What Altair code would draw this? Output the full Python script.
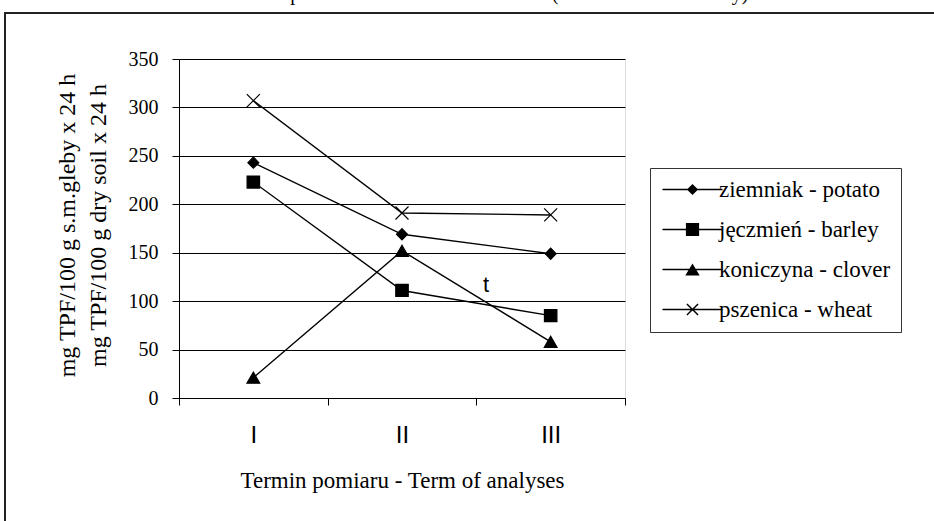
import altair as alt
import pandas as pd

# ---- data ----
terms = ["I", "II", "III"]
series = ["ziemniak - potato", "jęczmień - barley", "koniczyna - clover", "pszenica - wheat"]
potato = [243, 169, 149]
barley = [223, 111, 85]
clover = [21, 152, 58]
wheat = [307, 191, 189]
y_ticks = [0, 50, 100, 150, 200, 250, 300, 350]
y_title = ["mg TPF/100 g s.m.gleby x 24 h", "mg TPF/100 g dry soil x 24 h"]
x_title = "Termin pomiaru - Term of analyses"
chart_title = ["Aktualna zawartość TTC – pomiar w trzech terminach roku (TTC reduction activity)"]
annot_label = ["t"]
annot_term = ["II"]
annot_value = [117]

# marker shapes (plot)
plot_shapes = [
    "M0,-0.8L0.78,0L0,0.8L-0.78,0Z",
    "M-0.89,-0.86H0.89V0.86H-0.89Z",
    "M0,-0.79L0.91,0.79L-0.91,0.79Z",
    "M-0.93,-0.93L0.93,0.93M-0.93,0.93L0.93,-0.93",
]
# legend symbols: filled line segment through a filled marker
BAR = "M-5.0,-0.12H5.0V0.12H-5.0Z"
legend_shapes = [
    BAR + "M0,-0.93L0.93,0L0,0.93L-0.93,0Z",
    BAR + "M-1.1,-1.1H1.1V1.1H-1.1Z",
    BAR + "M0,-1.02L1.2,1.02L-1.2,1.02Z",
    BAR + "M-0.845,-1.015L1.015,0.845L0.845,1.015L-1.015,-0.845Z"
          "M-1.015,0.845L0.845,-1.015L1.015,-0.845L-0.845,1.015Z",
]

rows = []
for s, vals in zip(series, [potato, barley, clover, wheat]):
    for t, v in zip(terms, vals):
        rows.append({"series": s, "term": t, "value": v})
df = pd.DataFrame(rows)
annot_df = pd.DataFrame({"label": annot_label, "term": annot_term, "value": annot_value})
title_df = pd.DataFrame({"text": chart_title})

SERIF = "Liberation Serif"
SANS = "Liberation Sans"

x_enc = alt.X(
    "term:N",
    sort=terms,
    scale=alt.Scale(type="band", domain=terms, paddingInner=0, paddingOuter=0),
    axis=alt.Axis(
        title=x_title, titleFont=SERIF, titleFontSize=23, titleFontWeight="normal",
        titleColor="black", titleBaseline="alphabetic", titleY=89,
        labelFont=SANS, labelFontSize=24, labelColor="black", labelAngle=0,
        labelPadding=18, tickBand="extent", tickSize=7, tickColor="black",
        domainColor="black", grid=False,
    ),
)
y_enc = alt.Y(
    "value:Q",
    scale=alt.Scale(domain=[0, 350], nice=False),
    axis=alt.Axis(
        values=y_ticks, title=y_title, titleFont=SERIF, titleFontSize=24,
        titleFontWeight="normal", titleColor="black", titleX=-105, titleY=166,
        titleBaseline="alphabetic", titleAngle=270, titleLineHeight=31,
        titleAlign="center",
        labelFont=SERIF, labelFontSize=20, labelColor="black", labelPadding=14,
        tickSize=7, tickColor="black", domainColor="black",
        grid=True, gridColor="black", gridWidth=1, gridOpacity=1,
    ),
)

frame = alt.Chart(pd.DataFrame({"a": [0]})).mark_rect(
    fill="transparent", stroke="#222", strokeWidth=2
).encode(x=alt.value(-174), x2=alt.value(900), y=alt.value(-46), y2=alt.value(700))

# page title, mostly above the visible page as in the original
title_mark = alt.Chart(title_df).mark_text(
    font=SERIF, fontSize=20, color="black", align="center", baseline="alphabetic"
).encode(x=alt.value(230), y=alt.value(-59.5), text="text:N")

base = alt.Chart(df)
lines = base.mark_line(color="black", strokeWidth=1.4).encode(
    x=x_enc, y=y_enc, detail="series:N"
)
points = base.mark_point(
    filled=True, fill="black", stroke="black", strokeWidth=1.2, size=196, opacity=1
).encode(
    x=x_enc, y=y_enc,
    shape=alt.Shape("series:N", scale=alt.Scale(domain=series, range=plot_shapes), legend=None),
)
# legend-only layer: its points sit outside the visible page
legend_layer = base.mark_point(
    filled=True, fill="black", opacity=1
).encode(
    x=alt.value(3000), y=alt.value(150),
    shape=alt.Shape(
        "series:N",
        scale=alt.Scale(domain=series, range=legend_shapes),
        legend=alt.Legend(
            title=None, orient="none", legendX=471, legendY=109,
            symbolSize=144, symbolOffset=21, labelOffset=15,
            labelFont=SERIF, labelFontSize=23, labelColor="black", labelLimit=400,
            padding=10, strokeColor="#333", fillColor="white", rowPadding=16,
            symbolFillColor="black",
        ),
    ),
)
annot = alt.Chart(annot_df).mark_text(font=SANS, fontSize=22, dx=84, color="black").encode(
    x=x_enc, y=y_enc, text="label:N"
)

chart = alt.layer(frame, title_mark, lines, points, legend_layer, annot).resolve_scale(
    shape="independent"
).properties(
    width=446, height=339,
    autosize=alt.AutoSizeParams(type="none"),
    padding={"left": 179, "top": 59, "right": 309, "bottom": 123},
).configure_view(stroke="transparent").configure(
    background="white"
).configure_legend(labelFont=SERIF).configure_axisY(labelFont=SERIF)

chart.save("out.html", embed_options={"renderer": "svg", "actions": False})
